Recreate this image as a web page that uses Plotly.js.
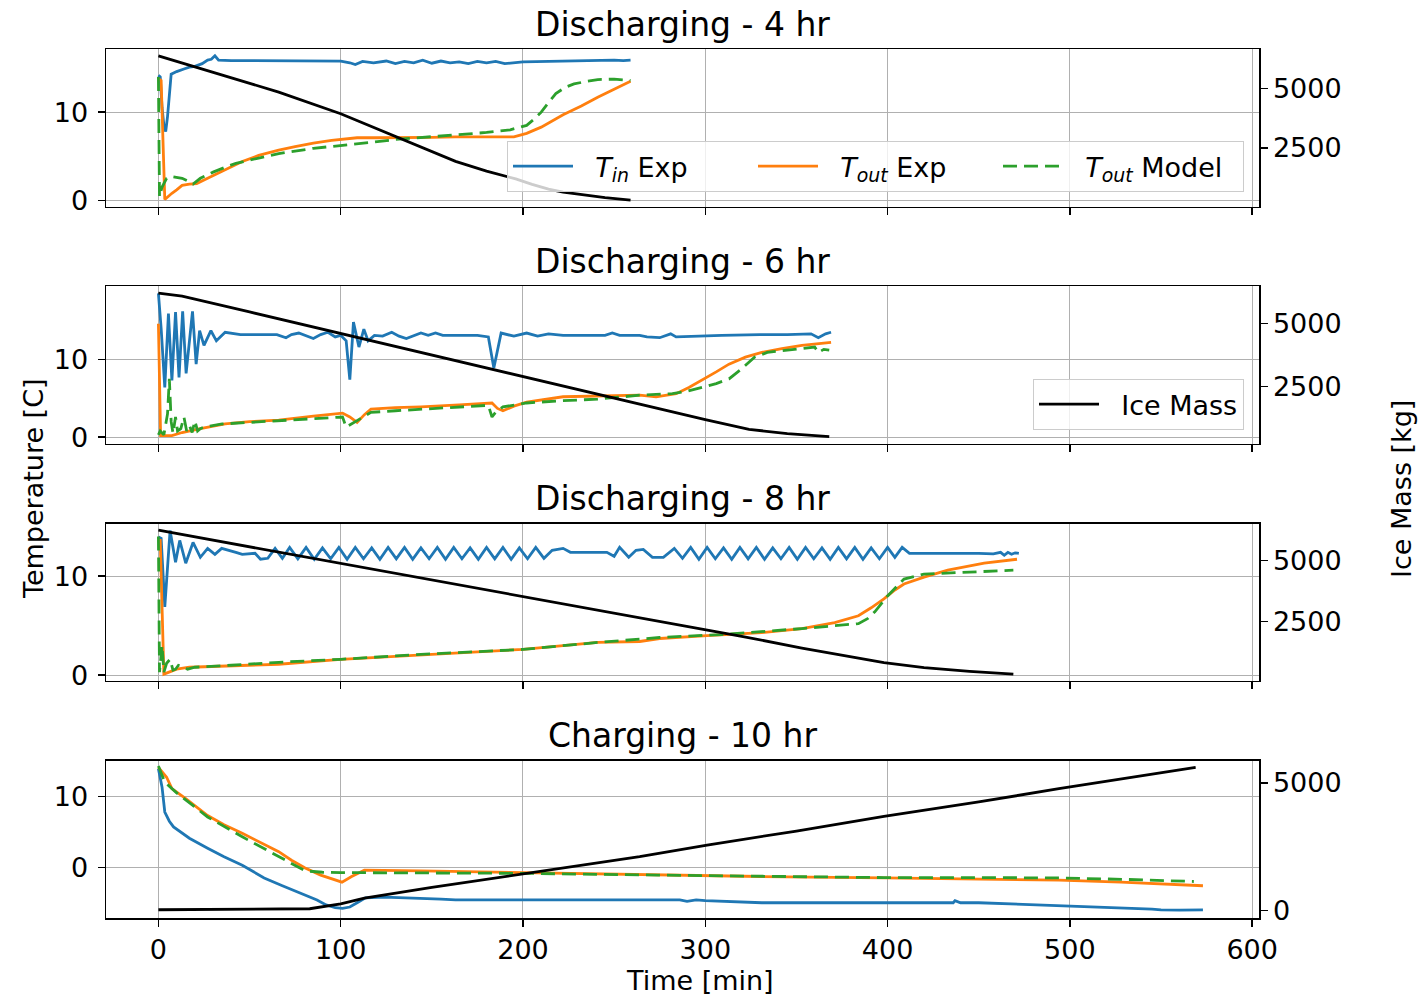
<!DOCTYPE html>
<html>
<head>
<meta charset="utf-8">
<script src="https://cdn.plot.ly/plotly-3.0.1.min.js"></script>
<style>html,body{margin:0;padding:0;background:#fff;}#chart{width:1424px;height:996px;}</style>
</head>
<body>
<div id="chart"></div>
<script>
// ---------- data: [time min, value] pairs ----------
const panelTitles = ["Discharging - 4 hr", "Discharging - 6 hr", "Discharging - 8 hr", "Charging - 10 hr"];
const seriesNames = ["<i>T<sub>in</sub></i> Exp", "<i>T<sub>out</sub></i> Exp", "<i>T<sub>out</sub></i> Model", "Ice Mass"];
const xTicks = [0, 100, 200, 300, 400, 500, 600];

// Discharging - 4 hr
const d4_tin = [[0,14.2],[1,14.0],[2,10.5],[3,8.5],[4,7.8],[5,9.5],[7,14.3],[10,14.6],[14,14.9],[17,15.1],[20,15.2],[24,15.5],[27,15.9],[29,16.0],[31,16.4],[33,15.9],[40,15.85],[60,15.85],[80,15.8],[100,15.8],[105,15.6],[108,15.4],[112,15.75],[118,15.6],[125,15.8],[130,15.5],[135,15.75],[140,15.6],[145,15.9],[150,15.55],[155,15.8],[160,15.6],[165,15.7],[170,15.5],[175,15.75],[180,15.6],[185,15.75],[190,15.5],[200,15.7],[220,15.8],[240,15.85],[250,15.9],[255,15.85],[259,15.9]];
const d4_tout = [[0,13.8],[1.5,13.6],[3.5,0.1],[5,0.4],[7.4,0.8],[10,1.2],[13,1.7],[17,1.85],[21,1.9],[27,2.5],[33,3.1],[40,3.8],[46,4.4],[55,5.1],[66,5.7],[75,6.1],[85,6.5],[95,6.8],[109,7.1],[120,7.1],[134,7.1],[150,7.15],[163,7.2],[180,7.2],[195,7.2],[202,7.6],[210,8.3],[222,9.7],[232,10.7],[241,11.7],[250,12.6],[259,13.5]];
const d4_model = [[0,14.0],[0.6,0.4],[2,1.5],[4.5,2.5],[7.4,2.7],[10,2.6],[13,2.5],[16,2.2],[19,1.85],[23,2.5],[30,3.2],[36,3.7],[42.5,4.2],[55,4.8],[66,5.3],[85,5.9],[105,6.3],[118,6.6],[130,6.9],[145,7.15],[163,7.4],[180,7.7],[193,8.0],[202,8.5],[206,9.2],[210,10.0],[214,11.1],[218,12.1],[223,12.8],[228,13.2],[235,13.5],[241,13.7],[250,13.75],[259,13.6]];
const d4_ice = [[0,6380],[20,5910],[40,5440],[66,4850],[100,3940],[130,2990],[163,1930],[180,1520],[196,1190],[205,960],[214,760],[222,630],[232,520],[245,400],[259,300]];

// Discharging - 6 hr
const d6_tin = [[0,18.5],[1.5,14.0],[3.5,6.4],[5.5,15.9],[7.4,7.3],[9.4,16.1],[11.3,7.7],[13.3,16.2],[15.2,8.2],[18.7,16.2],[20.7,9.4],[22.6,13.7],[25,11.8],[28.8,13.7],[31.8,12.4],[36.6,13.5],[45,13.2],[55,13.2],[65,13.2],[70,12.8],[73,13.2],[77,13.4],[81,13.1],[85,12.7],[89,13.2],[93,13.5],[97,12.9],[100,13.1],[103,12.4],[105,7.4],[107,14.8],[110,11.6],[112.7,13.9],[115,12.4],[118.5,13.1],[123,13.0],[128,13.5],[132,13.0],[136,12.7],[140,13.1],[144,13.4],[148,13.1],[152,13.4],[156,13.1],[165,13.1],[175,13.1],[181,12.9],[184,8.9],[188,13.4],[195,13.0],[202,13.4],[208,13.0],[214,13.3],[222,13.1],[235,13.1],[245,13.1],[249,13.4],[253,13.1],[264,13.1],[268,12.9],[275,12.8],[281,13.3],[284,12.9],[295,13.0],[309,13.1],[330,13.2],[345,13.2],[358,13.3],[362,12.8],[366,13.3],[369,13.5]];
const d6_tout = [[0,14.6],[1.2,0.2],[7.4,0.2],[13,0.6],[23,1.1],[36.6,1.7],[50,2.0],[66,2.2],[85,2.7],[101,3.1],[105,2.6],[109,1.9],[113,2.9],[116.6,3.6],[130,3.8],[144,3.9],[165,4.15],[183,4.4],[186,3.7],[189,3.4],[195,4.0],[202,4.5],[222,5.2],[245,5.3],[264,5.4],[273,5.2],[284,5.6],[291,6.4],[298,7.3],[306,8.4],[313,9.4],[322,10.3],[331,10.9],[342,11.4],[353,11.8],[369,12.2]];
const d6_model = [[0,0.3],[1,0.8],[3,0.3],[5,3.0],[6,7.5],[7,2.0],[8,0.5],[9.4,2.6],[10.5,0.8],[12.3,1.1],[14,2.6],[15.5,0.8],[17,1.5],[18.5,0.6],[20,2.1],[21.5,0.8],[23,1.1],[25,1.3],[35,1.7],[50,1.9],[66,2.1],[85,2.4],[101,2.6],[103,1.3],[106,1.7],[109,2.1],[116.6,3.2],[130,3.4],[144,3.6],[165,3.9],[181,4.1],[183,2.6],[185,3.2],[189,3.9],[202,4.4],[222,4.7],[241,4.9],[264,5.4],[282,5.6],[290,5.9],[298,6.4],[306,6.9],[313,7.5],[320,8.8],[327,10.3],[334,10.9],[345,11.2],[353,11.4],[360,11.6],[362,10.9],[365,11.3],[368,11.2]];
const d6_ice = [[0,6220],[13,6100],[50,5470],[100,4610],[150,3750],[200,2900],[250,2040],[300,1180],[324,790],[345,620],[368,500]];

// Discharging - 8 hr
const d8_tin = [[0,13.95],[1.5,13.8],[3.5,6.9],[6.4,14.6],[9.4,11.4],[11.7,13.6],[15,11.3],[19,13.4],[23,11.9],[27,12.8],[31,12.2],[34.7,12.8],[42.5,12.4],[46,12.2],[53,12.3],[56,11.7],[60,11.8],[64,12.8],[68,11.8],[72,12.9],[76.5,11.75],[81,12.9],[85.5,11.7],[90,12.85],[94.5,11.75],[99,12.9],[103.5,11.7],[108,12.9],[112.5,11.75],[117,12.85],[121.5,11.7],[126,12.9],[130.5,11.75],[135,12.9],[139.5,11.7],[144,12.85],[148.5,11.75],[153,12.9],[157.5,11.7],[162,12.9],[166.5,11.75],[171,12.85],[175.5,11.7],[180,12.9],[184.5,11.75],[189,12.9],[193.5,11.7],[198,12.85],[202.5,11.75],[207,12.9],[211.5,11.8],[216,12.6],[222,12.8],[226,12.4],[232,12.4],[240,12.4],[246,12.4],[250,12.0],[253,12.9],[258,11.9],[262,12.6],[266,12.7],[271,11.9],[277,11.9],[283,12.8],[287.5,11.8],[292,12.9],[296.5,11.7],[301,12.9],[305.5,11.75],[310,12.85],[314.5,11.7],[319,12.9],[323.5,11.75],[328,12.9],[332.5,11.7],[337,12.85],[341.5,11.75],[346,12.9],[350.5,11.7],[355,12.9],[359.5,11.75],[364,12.85],[368.5,11.7],[373,12.9],[377.5,11.75],[382,12.9],[386.5,11.7],[391,12.85],[395.5,11.75],[400,12.9],[404,11.9],[408,12.9],[412,12.3],[420,12.3],[430,12.3],[440,12.35],[450,12.3],[458,12.25],[462,12.4],[464,12.1],[466,12.4],[468,12.2],[470,12.35],[472,12.3]];
const d8_tout = [[0,13.6],[1,13.6],[3,0.1],[5.5,0.3],[10,0.6],[17,0.8],[40,0.95],[66,1.1],[100,1.6],[144,2.0],[170,2.3],[200,2.6],[241,3.3],[264,3.4],[275,3.7],[301,4.0],[331,4.3],[353,4.7],[371,5.3],[384,6.0],[391,6.8],[398,7.7],[404,8.6],[409,9.2],[420,9.9],[433,10.6],[453,11.3],[471,11.7]];
const d8_model = [[0,14.0],[0.6,0.3],[2,3.0],[3,0.3],[4.5,1.2],[6.4,1.6],[8,0.5],[9.4,0.6],[11,1.0],[13,0.9],[16,0.6],[20,0.8],[40,1.0],[66,1.3],[100,1.6],[144,2.1],[200,2.6],[241,3.3],[275,3.8],[309,4.1],[353,4.7],[371,5.0],[384,5.2],[389,5.7],[393,6.4],[400,8.0],[405,9.0],[409,9.7],[420,10.2],[442,10.4],[455,10.5],[469,10.6]];
const d8_ice = [[0,6230],[50,5550],[100,4870],[150,4190],[200,3510],[264,2650],[320,1900],[353,1420],[375,1120],[398,830],[420,625],[445,470],[469,355]];

// Charging - 10 hr
const c10_tin = [[0,13.9],[1,12.5],[2,11.3],[3.5,7.8],[6,6.5],[8.3,5.7],[17,4.1],[27,2.7],[36,1.5],[46,0.3],[58,-1.5],[68,-2.6],[77.5,-3.6],[87,-4.6],[92,-5.3],[97,-5.7],[101,-5.8],[105,-5.6],[109,-5.0],[113.6,-4.3],[124,-4.2],[135,-4.3],[144,-4.3],[155,-4.5],[163,-4.6],[180,-4.6],[200,-4.6],[230,-4.7],[264,-4.7],[280,-4.7],[286,-4.6],[290,-4.8],[295,-4.6],[300,-4.7],[331,-5.0],[370,-5.0],[398,-5.0],[436,-5.0],[437,-4.7],[440,-5.0],[450,-5.0],[461,-5.1],[475,-5.2],[494,-5.4],[510,-5.5],[528,-5.7],[545,-5.9],[550,-6.0],[560,-6.05],[573,-6.0]];
const c10_tout = [[0,14.1],[2,13.5],[4.5,12.7],[7.4,11.1],[15,9.7],[27,7.3],[36,6.0],[46,4.8],[56,3.5],[66,2.2],[73,1.0],[80.5,-0.1],[89,-1.1],[95,-1.6],[100.7,-2.1],[106,-1.3],[113,-0.4],[144,-0.5],[200,-0.75],[264,-1.05],[330,-1.3],[398,-1.5],[450,-1.65],[494,-1.8],[528,-2.1],[550,-2.35],[573,-2.6]];
const c10_model = [[0,14.3],[3.5,12.0],[10,10.5],[27,7.1],[46,4.3],[66,1.5],[74,0.4],[80.5,-0.5],[90,-0.7],[100,-0.75],[150,-0.8],[200,-0.85],[274,-1.1],[330,-1.3],[398,-1.45],[450,-1.45],[494,-1.5],[530,-1.7],[568,-2.0]];
const c10_ice = [[0,27],[40,45],[83,66],[100,260],[113,480],[150,900],[200,1420],[264,2103],[301,2558],[350,3110],[398,3688],[450,4250],[494,4766],[530,5180],[569,5607]];

// ---------- styling / layout ----------
const FONT = "DejaVu Sans, Liberation Sans, sans-serif";
const COLORS = ["#1f77b4", "#ff7f0e", "#2ca02c", "#000000"];
const LW = 2.8;
const GAP = "&nbsp;&nbsp;";

const panels = [
  {tin: d4_tin, tout: d4_tout, model: d4_model, ice: d4_ice, tRange: [-0.72, 17.13], iRange: [20, 6655], iTicks: [2500, 5000]},
  {tin: d6_tin, tout: d6_tout, model: d6_model, ice: d6_ice, tRange: [-0.85, 19.4], iRange: [214, 6488], iTicks: [2500, 5000]},
  {tin: d8_tin, tout: d8_tout, model: d8_model, ice: d8_ice, tRange: [-0.58, 15.31], iRange: [81, 6504], iTicks: [2500, 5000]},
  {tin: c10_tin, tout: c10_tout, model: c10_model, ice: c10_ice, tRange: [-7.15, 15.05], iRange: [-297, 5868], iTicks: [0, 5000]}
];

// pixel geometry of the plotting area
const W = 1424, H = 996;
const mL = 106, mR = 165, mT = 49, mB = 78;
const plotH = H - mT - mB;
const plotW = W - mL - mR;
const panelTops = [49.3, 286.4, 523.5, 760.6];
const panelH = 157.4;
const pyFrac = py => (H - mB - py) / plotH;
const pxFrac = px => (px - mL) / plotW;

const traces = [];
const layout = {
  width: W, height: H,
  margin: {l: mL, r: mR, t: mT, b: mB, pad: 0},
  paper_bgcolor: "#ffffff", plot_bgcolor: "#ffffff",
  font: {family: FONT, size: 27, color: "#000000"},
  showlegend: true,
  legend: {
    x: pxFrac(1244), y: pyFrac(192), xanchor: "right", yanchor: "bottom",
    orientation: "h", bgcolor: "rgba(255,255,255,0.8)", bordercolor: "#cccccc", borderwidth: 1,
    font: {family: FONT, size: 27, color: "#000000"}, itemwidth: 60, entrywidth: 170, traceorder: "normal"
  },
  legend2: {
    x: pxFrac(1244), y: pyFrac(430), xanchor: "right", yanchor: "bottom",
    bgcolor: "rgba(255,255,255,0.8)", bordercolor: "#cccccc", borderwidth: 1,
    font: {family: FONT, size: 27, color: "#000000"}, itemwidth: 60
  },
  annotations: []
};

panels.forEach((p, i) => {
  const k = i + 1;
  const xName = k === 1 ? "x" : "x" + k;
  const yL = 2 * i + 1, yR = 2 * i + 2;
  const yLName = yL === 1 ? "y" : "y" + yL;
  const yRName = "y" + yR;
  const top = panelTops[i];
  const dom = [pyFrac(top + panelH), pyFrac(top)];

  const series = [p.tin, p.tout, p.model];
  series.forEach((s, j) => {
    traces.push({
      x: s.map(d => d[0]), y: s.map(d => d[1]),
      type: "scatter", mode: "lines", xaxis: xName, yaxis: yLName,
      name: GAP + seriesNames[j],
      line: {color: COLORS[j], width: LW, dash: j === 2 ? "14px,7px" : "solid"},
      showlegend: i === 0, legend: "legend", hoverinfo: "skip"
    });
  });
  traces.push({
    x: p.ice.map(d => d[0]), y: p.ice.map(d => d[1]),
    type: "scatter", mode: "lines", xaxis: xName, yaxis: yRName,
    name: GAP + seriesNames[3],
    line: {color: COLORS[3], width: LW},
    showlegend: i === 1, legend: "legend2", hoverinfo: "skip"
  });

  layout["xaxis" + (k === 1 ? "" : k)] = {
    domain: [0, 1], anchor: yLName, range: [-28.75, 603.75],
    tickvals: xTicks, ticktext: xTicks.map(String), showticklabels: k === 4,
    ticks: "outside", ticklen: 7, tickwidth: 1.5, tickcolor: "#000",
    showline: true, mirror: true, linecolor: "#000", linewidth: 1.5,
    showgrid: true, gridcolor: "#b0b0b0", gridwidth: 1, zeroline: false,
    tickfont: {family: FONT, size: 27, color: "#000"}, ticklabelstandoff: 0
  };
  layout["yaxis" + (yL === 1 ? "" : yL)] = {
    domain: dom, anchor: xName, range: p.tRange,
    tickvals: [0, 10], ticktext: ["0", "10"],
    ticks: "outside", ticklen: 7, tickwidth: 1.5, tickcolor: "#000",
    showline: true, mirror: false, linecolor: "#000", linewidth: 1.5,
    showgrid: true, gridcolor: "#b0b0b0", gridwidth: 1, zeroline: false,
    tickfont: {family: FONT, size: 27, color: "#000"}, ticklabelstandoff: 4
  };
  layout["yaxis" + yR] = {
    domain: dom, anchor: xName, overlaying: yLName, side: "right", range: p.iRange,
    tickvals: p.iTicks, ticktext: p.iTicks.map(String),
    ticks: "outside", ticklen: 7, tickwidth: 1.5, tickcolor: "#000",
    showline: true, linecolor: "#000", linewidth: 1.5,
    showgrid: false, zeroline: false,
    tickfont: {family: FONT, size: 27, color: "#000"}, ticklabelstandoff: 0
  };

  layout.annotations.push({
    text: panelTitles[i], xref: "paper", yref: "paper",
    x: 0.5, y: pyFrac(top - 25), xanchor: "center", yanchor: "middle",
    showarrow: false, font: {family: FONT, size: 33, color: "#000"}
  });
});

layout.annotations.push(
  {text: "Temperature [C]", xref: "paper", yref: "paper", x: pxFrac(33), y: pyFrac(488),
   xanchor: "center", yanchor: "middle", textangle: -90, showarrow: false,
   font: {family: FONT, size: 27, color: "#000"}},
  {text: "Ice Mass [kg]", xref: "paper", yref: "paper", x: pxFrac(1401), y: pyFrac(489),
   xanchor: "center", yanchor: "middle", textangle: -90, showarrow: false,
   font: {family: FONT, size: 27, color: "#000"}},
  {text: "Time [min]", xref: "paper", yref: "paper", x: pxFrac(700), y: pyFrac(980),
   xanchor: "center", yanchor: "middle", showarrow: false,
   font: {family: FONT, size: 27, color: "#000"}}
);

Plotly.newPlot("chart", traces, layout, {staticPlot: true, displayModeBar: false});
</script>
</body>
</html>
